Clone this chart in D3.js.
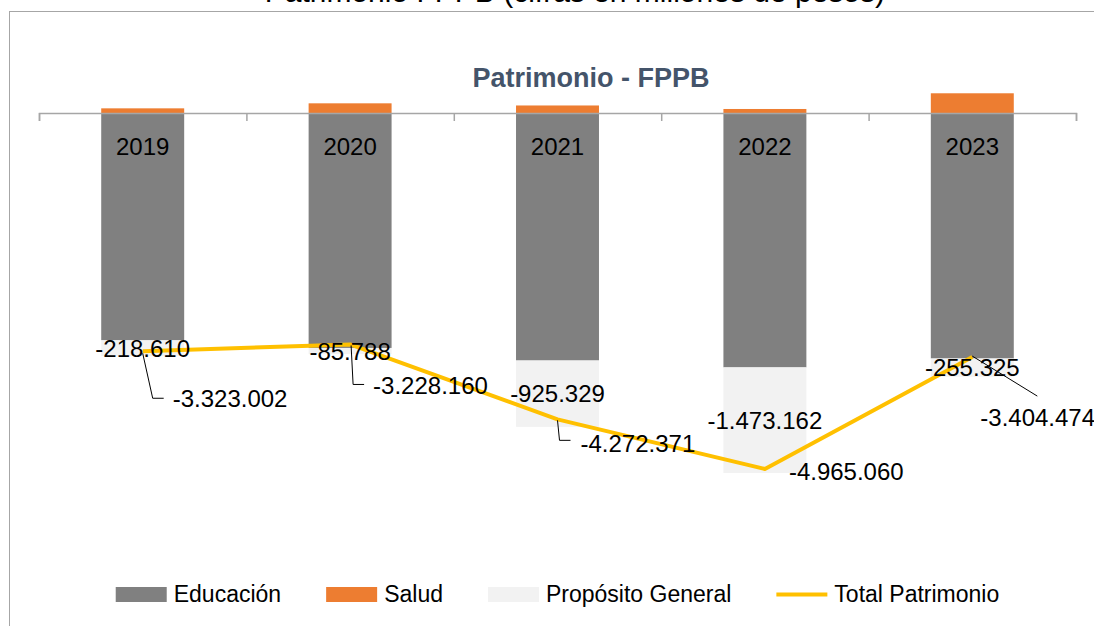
<!DOCTYPE html>
<html>
<head>
<meta charset="utf-8">
<script src="https://cdn.jsdelivr.net/npm/d3@7"></script>
<style>
  body { margin: 0; background: #fff; }
  svg { display: block; font-family: "Liberation Sans", Arial, sans-serif; }
</style>
</head>
<body>
<div id="vis"></div>
<script>
// data
var years = ["2019", "2020", "2021", "2022", "2023"];
var educacion = [-3170000, -3277000, -3452000, -3548000, -3424000];
var salud = [65000, 135000, 105000, 56000, 275000];
var propositoGeneral = [-218610, -85788, -925329, -1473162, -255325];
var totalPatrimonio = [-3323002, -3228160, -4272371, -4965060, -3404474];

var W = 1094, H = 626;
var colors = { edu: "#808080", salud: "#ED7D31", pg: "#F2F2F2", total: "#FFC000" };

// label placement for the total series (offsets from the point, leader line points)
var totalLabelPos = [
    { label: [30, 56], leader: [[0, 2], [10, 47], [21, 47]] },
    { label: [23, 50], leader: [[1, 1], [3, 40], [14, 40]] },
    { label: [23, 33], leader: [[0, 1], [2, 21], [13, 21]] },
    { label: [24, 11], leader: null },
    { label: [8, 69], leader: [[0, -1], [65, 39]] }
];

var fmt = function (v) {
    var s = d3.format(",")(Math.abs(v)).replace(/,/g, ".");
    return (v < 0 ? "-" : "") + s;
};

var rows = years.map(function (y, i) {
    return { year: y, edu: educacion[i], salud: salud[i], pg: propositoGeneral[i], total: totalPatrimonio[i] };
});

var x = d3.scaleBand()
    .domain(years)
    .range([39, 1076])
    .paddingInner(0.6)
    .paddingOuter(0.3);

var y = d3.scaleLinear()
    .domain([-6000000, 0])
    .range([543.2, 113]);

var svg = d3.select("#vis").append("svg")
    .attr("width", W)
    .attr("height", H);

// chart frame (partly outside the window)
svg.append("rect")
    .attr("x", 9.5).attr("y", 11.5)
    .attr("width", 1200).attr("height", 800)
    .attr("fill", "none")
    .attr("stroke", "#A6A6A6")
    .attr("stroke-width", 1);

// cut-off heading above the frame
svg.append("text")
    .attr("x", 885).attr("y", 2)
    .attr("text-anchor", "end")
    .attr("font-size", 30)
    .attr("fill", "#000")
    .text("Patrimonio FPPB (cifras en millones de pesos)");

// title
svg.append("text")
    .attr("x", 591).attr("y", 87)
    .attr("text-anchor", "middle")
    .attr("font-size", 27)
    .attr("font-weight", "bold")
    .attr("fill", "#44546A")
    .text("Patrimonio - FPPB");

// stacked bars
var stack = d3.stack()
    .keys(["edu", "salud", "pg"])
    .offset(d3.stackOffsetDiverging);
var series = stack(rows);

svg.append("g").selectAll("g")
    .data(series)
    .join("g")
    .attr("fill", function (s) { return colors[s.key]; })
    .selectAll("rect")
    .data(function (s) { return s; })
    .join("rect")
    .attr("x", function (d) { return x(d.data.year); })
    .attr("width", x.bandwidth())
    .attr("y", function (d) { return y(Math.max(d[0], d[1])); })
    .attr("height", function (d) { return Math.abs(y(d[0]) - y(d[1])); });

// category axis with ticks between categories
var xb = d3.scaleLinear().domain([0, years.length]).range(x.range());
var axis = svg.append("g")
    .attr("transform", "translate(0," + y(0) + ")")
    .call(d3.axisBottom(xb).ticks(years.length).tickSize(8).tickFormat(""));
axis.selectAll("path, line").attr("stroke", "#A6A6A6").attr("stroke-width", 1.5);

// year labels inside the bars
svg.append("g").selectAll("text")
    .data(years)
    .join("text")
    .attr("x", function (d) { return x(d) + x.bandwidth() / 2; })
    .attr("y", 155)
    .attr("text-anchor", "middle")
    .attr("font-size", 24)
    .attr("fill", "#000")
    .text(function (d) { return d; });

// total line
var cx = function (d) { return x(d.year) + x.bandwidth() / 2; };
svg.append("path")
    .datum(rows)
    .attr("fill", "none")
    .attr("stroke", colors.total)
    .attr("stroke-width", 4)
    .attr("stroke-linejoin", "round")
    .attr("d", d3.line().x(cx).y(function (d) { return y(d.total); }));

// proposito general labels (centered in their segment)
var pgSeries = series[2];
svg.append("g").selectAll("text")
    .data(pgSeries)
    .join("text")
    .attr("x", function (d) { return cx(d.data); })
    .attr("y", function (d) { return (y(d[0]) + y(d[1])) / 2 + 8.5; })
    .attr("text-anchor", "middle")
    .attr("font-size", 24)
    .attr("fill", "#000")
    .text(function (d) { return fmt(d.data.pg); });

// total labels with leader lines
var tl = svg.append("g");
rows.forEach(function (d, i) {
    var px = cx(d), py = y(d.total), pos = totalLabelPos[i];
    if (pos.leader) {
        tl.append("path")
            .attr("fill", "none")
            .attr("stroke", "#000")
            .attr("stroke-width", 1)
            .attr("d", d3.line()(pos.leader.map(function (p) { return [px + p[0], py + p[1]]; })));
    }
    tl.append("text")
        .attr("x", px + pos.label[0])
        .attr("y", py + pos.label[1])
        .attr("font-size", 24)
        .attr("fill", "#000")
        .text(fmt(d.total));
});

// legend
var legendItems = [
    { name: "Educación", key: "edu", type: "rect" },
    { name: "Salud", key: "salud", type: "rect" },
    { name: "Propósito General", key: "pg", type: "rect" },
    { name: "Total Patrimonio", key: "total", type: "line" }
];
var legend = svg.append("g");
var lx = 0, gap = 45;
legendItems.forEach(function (it) {
    var g = legend.append("g").attr("transform", "translate(" + lx + ",0)");
    if (it.type === "rect") {
        g.append("rect").attr("x", 0).attr("y", 587).attr("width", 51).attr("height", 15)
            .attr("fill", colors[it.key]);
    } else {
        g.append("line").attr("x1", 0).attr("x2", 51).attr("y1", 594.5).attr("y2", 594.5)
            .attr("stroke", colors[it.key]).attr("stroke-width", 4);
    }
    var t = g.append("text").attr("x", 58).attr("y", 602)
        .attr("font-size", 23).attr("fill", "#000").text(it.name);
    lx += 58 + t.node().getComputedTextLength() + gap;
});
var legendW = lx - gap;
var mid = (x.range()[0] + x.range()[1]) / 2;
legend.attr("transform", "translate(" + (mid - legendW / 2) + ",0)");
</script>
</body>
</html>
